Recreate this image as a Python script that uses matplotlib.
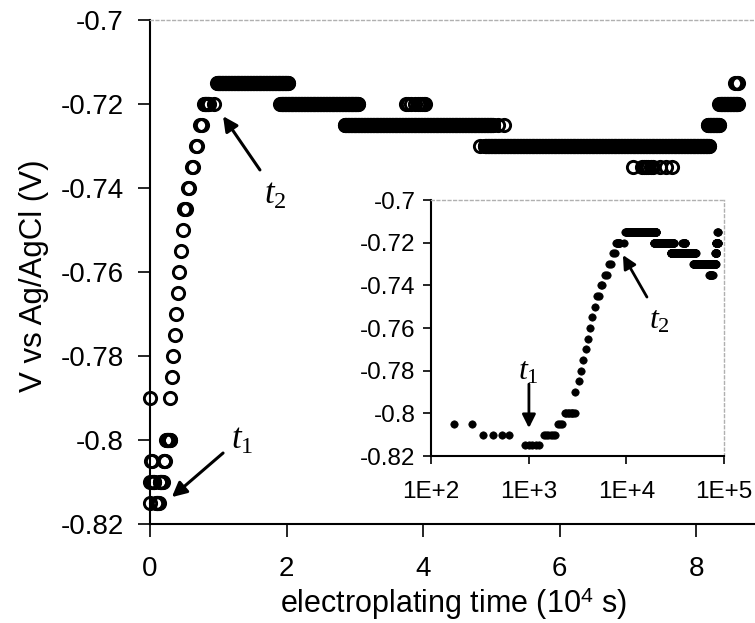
import numpy as np
import matplotlib
matplotlib.use("Agg")
import matplotlib.pyplot as plt

plt.rcParams['font.family'] = ['Liberation Sans', 'DejaVu Sans']
plt.rcParams['mathtext.fontset'] = 'custom'
plt.rcParams['mathtext.it'] = 'Liberation Serif:italic'
plt.rcParams['mathtext.rm'] = 'Liberation Serif'
plt.rcParams['mathtext.sf'] = 'Liberation Sans'

# ---- data (time in seconds, potential in V vs Ag/AgCl) ----
# individually readable points
single_t = [10, 40, 70, 172, 261, 343, 434, 529, 633,
            3000, 3250, 3400, 3600, 3820, 4070, 4280, 4500, 4760,
            5050, 5200, 5500, 5650, 6100, 6300, 6700, 6950, 7300, 7600,
            9400,
            37500, 37800, 38200, 38800, 39200, 39500, 39800, 40100, 40300,
            48300, 51000, 51800,
            70700, 72000, 72300, 72600, 73000, 73300, 73600, 74700, 75600, 76400,
            85700, 85900, 86100]
single_v = [-0.79, -0.815, -0.81, -0.805, -0.805, -0.81, -0.81, -0.81, -0.81,
            -0.79, -0.785, -0.78, -0.775, -0.77, -0.765, -0.76, -0.755, -0.75,
            -0.745, -0.745, -0.74, -0.74, -0.735, -0.735, -0.73, -0.73, -0.725, -0.725,
            -0.72,
            -0.72, -0.72, -0.72, -0.72, -0.72, -0.72, -0.72, -0.72, -0.72,
            -0.73, -0.725, -0.725,
            -0.735, -0.735, -0.735, -0.735, -0.735, -0.735, -0.735, -0.735, -0.735, -0.735,
            -0.715, -0.715, -0.715]

# plateaus recorded continuously: level, start time, end time
plateau_v = [-0.815, -0.81, -0.805, -0.80, -0.72, -0.715, -0.72, -0.725, -0.73, -0.725, -0.72]
plateau_t0 = [916, 1420, 2020, 2340, 7900, 9800, 19100, 28500, 49000, 81700, 83400]
plateau_t1 = [1337, 1860, 2260, 2980, 8600, 20300, 30500, 50300, 81900, 83400, 86100]
sample_dt = 87  # logging interval, s

t_all = list(single_t)
v_all = list(single_v)
for v, a, b in zip(plateau_v, plateau_t0, plateau_t1):
    ts = np.arange(a, b + 1, sample_dt)
    t_all.extend(ts.tolist())
    v_all.extend([v] * len(ts))
t_all = np.array(t_all, dtype=float)
v_all = np.array(v_all)

main_yticks = [-0.82, -0.80, -0.78, -0.76, -0.74, -0.72, -0.70]
main_yticklabels = ['-0.82', '-0.8', '-0.78', '-0.76', '-0.74', '-0.72', '-0.7']
main_xticks = [0, 2, 4, 6, 8]
inset_xticks = [1e2, 1e3, 1e4, 1e5]
inset_xticklabels = ['1E+2', '1E+3', '1E+4', '1E+5']

W, H = 755, 623
fig = plt.figure(figsize=(W / 100, H / 100), dpi=100)

# ---- main axes ----
ax = fig.add_axes([150 / W, 1 - 524 / H, (W - 150) / W, 504 / H])
ax.plot(t_all / 1e4, v_all, linestyle='none', marker='o', ms=8.8,
        mfc='none', mec='black', mew=2.1, clip_on=False)
ax.set_xlim(0, 8.86)
ax.set_ylim(-0.82, -0.70)
ax.set_xticks(main_xticks)
ax.set_xticklabels([str(x) for x in main_xticks])
ax.set_yticks(main_yticks)
ax.set_yticklabels(main_yticklabels)
ax.tick_params(direction='out', length=9, width=1.2, labelsize=20, pad=10)
ax.tick_params(axis='x', pad=14)
for s in ['left', 'bottom']:
    ax.spines[s].set_linewidth(1.5)
ax.spines['right'].set_visible(False)
ax.spines['top'].set_color('#b0b0b0')
ax.spines['top'].set_linestyle((0, (2, 2)))
ax.spines['top'].set_linewidth(1)

fig.text(34 / W, 1 - 276 / H, 'V vs Ag/AgCl (V)', rotation=90,
         ha='center', va='center', fontsize=22.5)
fig.text(454 / W, 1 - 604 / H, r'electroplating time (10$^{\mathsf{4}}$ s)',
         ha='center', va='center', fontsize=22)

arrow = dict(arrowstyle='-|>', color='black', lw=2.2, mutation_scale=22,
             shrinkA=0, shrinkB=0)
ax.annotate('', xy=(1.07, -0.7229), xytext=(1.61, -0.7357), arrowprops=arrow)
ax.text(1.84, -0.7415, r'$t_2$', fontsize=25, ha='center', va='center')
ax.annotate('', xy=(0.32, -0.8136), xytext=(1.07, -0.8031), arrowprops=arrow)
ax.text(1.35, -0.800, r'$t_1$', fontsize=25, ha='center', va='center')

# ---- inset ----
ins = fig.add_axes([431 / W, 1 - 456 / H, 293 / W, 256 / H])
ins.set_facecolor('white')
ins.plot(t_all, v_all, linestyle='none', marker='o', ms=5.3,
         mfc='black', mec='black', mew=0.5)
ins.set_xscale('log')
ins.set_xlim(1e2, 1e5)
ins.set_ylim(-0.82, -0.70)
ins.set_xticks(inset_xticks)
ins.set_xticklabels(inset_xticklabels)
ins.xaxis.set_minor_locator(matplotlib.ticker.NullLocator())
ins.set_yticks(main_yticks)
ins.set_yticklabels(main_yticklabels)
ins.tick_params(direction='out', length=6, width=1.2, labelsize=17.5, pad=5)
ins.tick_params(axis='x', pad=12)
for s in ['left', 'bottom']:
    ins.spines[s].set_linewidth(1.5)
for s in ['top', 'right']:
    ins.spines[s].set_color('#b0b0b0')
    ins.spines[s].set_linestyle((0, (2, 2)))
    ins.spines[s].set_linewidth(1)

arrow2 = dict(arrowstyle='-|>', color='black', lw=2.0, mutation_scale=20,
              shrinkA=0, shrinkB=0)
ins.annotate('', xy=(1006, -0.8069), xytext=(1006, -0.7863), arrowprops=arrow2)
ins.text(984, -0.7802, r'$t_1$', fontsize=23, ha='center', va='center')
ins.annotate('', xy=(9230, -0.7258), xytext=(16260, -0.7455), arrowprops=arrow2)
ins.text(21600, -0.7563, r'$t_2$', fontsize=23, ha='center', va='center')

fig.savefig('out.png', dpi=100)
